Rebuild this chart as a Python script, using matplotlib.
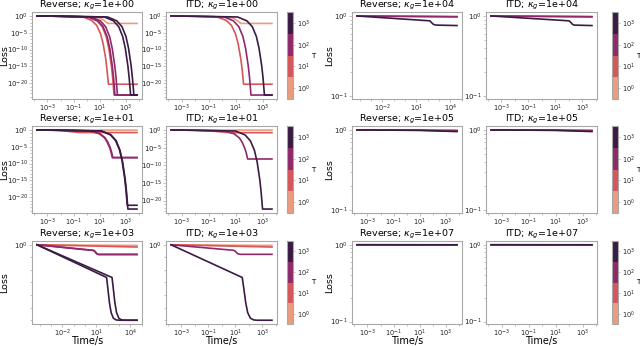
# loss curves for Reverse vs ITD at several kappa_g, coloured by T
import matplotlib
matplotlib.use("Agg")
import matplotlib.pyplot as plt
from matplotlib.colors import ListedColormap, LogNorm
from matplotlib.cm import ScalarMappable
from matplotlib.ticker import FixedLocator, NullFormatter

T_VALUES = [1, 10, 100, 1000]
T_COLORS = ['#eb9c7d', '#d6565a', '#90296a', '#3a1b44']

# shared drop shapes (pre-knee, knee, ..., plateau)
DROP_20 = [1.0, 0.8, 0.55, 0.05, 1.6e-3, 5e-6, 5e-9, 1.3e-13, 8e-17, 5e-21, 5e-21]
DROP_22 = [1.0, 0.8, 0.5, 0.04, 8e-4, 1.6e-6, 8e-10, 6e-15, 1.6e-18, 4e-23, 4e-23]
DROP_23 = [1.0, 0.8, 0.5, 0.035, 6.3e-4, 8e-7, 2.5e-10, 1.3e-15, 2.5e-19, 3e-24, 3e-24]
DROP_8 = [1.0, 0.8, 0.5, 0.08, 5e-3, 3e-4, 5e-6, 3e-7, 6e-9, 6e-9]
PEACH_K1 = [1.0, 0.8, 0.5, 0.25, 0.06, 0.015, 6e-3, 6e-3]
STEEP_1E3 = [1.0, 1e-130, 1e-170, 1e-230, 1e-270, 1e-292, 1e-299, 1e-300, 1e-300]
STEP_1E4 = [1.0, 0.87, 0.83, 0.79, 0.775, 0.77, 0.76]

# each panel: list of (T, times, losses)
REV_K0 = [
    (1, [1.6e-4, 1e-2, 3, 10, 20, 30, 40, 7e3], PEACH_K1),
    (10, [1.6e-4, 1e-2, 0.5, 2.3, 5.8, 11.5, 18.2, 29, 36, 46, 7e3], DROP_20),
    (10, [1.6e-4, 1e-2, 1.2, 6.2, 15.5, 31, 49, 78, 98, 123, 7e3], DROP_23),
    (100, [1.6e-4, 1e-2, 1.4, 7.2, 18, 36, 58, 91, 115, 145, 7e3], DROP_23),
    (100, [1.6e-4, 1e-2, 2.2, 11.2, 28, 56, 89, 141, 178, 224, 7e3], DROP_23),
    (1000, [1.6e-4, 1e-2, 22, 112, 282, 562, 891, 1410, 1780, 2290, 7e3], DROP_23),
    (1000, [1.6e-4, 1e-2, 40, 200, 500, 1000, 1580, 2510, 3160, 4070, 7e3], DROP_23),
]
ITD_K0 = [
    (1, [1.6e-4, 1e-2, 2, 6, 12, 18, 24, 5e3], PEACH_K1),
    (10, [1.6e-4, 1e-2, 0.4, 1.95, 4.9, 9.8, 15.5, 24.5, 31, 39, 5e3], DROP_20),
    (100, [1.6e-4, 1e-2, 1.4, 6.9, 17.4, 34.7, 55, 87, 110, 138, 5e3], DROP_23),
    (1000, [1.6e-4, 1e-2, 14, 69, 174, 347, 550, 870, 1100, 1380, 5e3], DROP_23),
]
REV_K1 = [
    (1, [1.6e-4, 1e-2, 1, 7e3], [1.0, 0.95, 0.9, 0.9]),
    (10, [1.6e-4, 1e-2, 0.1, 0.3, 7e3], [1.0, 0.7, 0.25, 0.17, 0.17]),
    (100, [1.6e-4, 1e-2, 1.8, 9.1, 23, 36, 58, 72, 91, 7e3], DROP_8),
    (100, [1.6e-4, 1e-2, 2, 10, 25, 40, 63, 79, 100, 7e3], DROP_8),
    (1000, [1.6e-4, 1e-2, 12.6, 63, 158, 316, 501, 794, 1000, 1260, 7e3], DROP_22),
    (1000, [1.6e-4, 1e-2, 14, 71, 178, 355, 562, 891, 1120, 1410, 7e3], DROP_23),
]
ITD_K1 = [
    (1, [1.6e-4, 1e-2, 1, 5e3], [1.0, 0.95, 0.9, 0.9]),
    (10, [1.6e-4, 1e-2, 0.3, 2, 10, 5e3], [1.0, 0.8, 0.4, 0.2, 0.17, 0.17]),
    (100, [1.6e-4, 1e-2, 1.6, 7.8, 19.5, 31, 49, 62, 78, 5e3], DROP_8),
    (1000, [1.6e-4, 1e-2, 10, 50, 126, 251, 398, 631, 794, 1000, 5e3], DROP_22),
]
REV_K3 = [
    (1, [6e-5, 4e4], [1.0, 2.5e-3]),
    (10, [6e-5, 4e4], [1.0, 1e-9]),
    (100, [6e-5, 5.6, 7.1, 8.9, 11.2, 15.5, 4e4], [1.0, 1e-22, 1e-25, 1e-31, 1e-36, 1e-38, 1e-38]),
    (100, [6e-5, 6.3, 7.9, 10, 12.6, 17.4, 4e4], [1.0, 1e-23, 1e-26, 1e-32, 1e-37, 1e-39, 1e-39]),
    (1000, [6e-5, 83, 105, 148, 209, 331, 589, 1175, 4e4], STEEP_1E3),
    (1000, [6e-5, 251, 316, 447, 631, 1000, 1780, 3550, 4e4], STEEP_1E3),
]
ITD_K3 = [
    (1, [1.8e-4, 5e3], [1.0, 2.5e-3]),
    (10, [1.8e-4, 5e3], [1.0, 1e-9]),
    (100, [1.8e-4, 7.6, 9.5, 12, 15, 24, 5e3], [1.0, 1e-22, 1e-25, 1e-31, 1e-36, 1e-38, 1e-38]),
    (1000, [1.8e-4, 32, 41, 58, 81, 129, 229, 407, 5e3], STEEP_1E3),
]
REV_K4 = [
    (1, [6e-5, 4e4], [1.0, 0.985]),
    (10, [6e-5, 4e4], [1.0, 0.98]),
    (100, [6e-5, 4e4], [1.0, 0.975]),
    (1000, [6e-5, 160, 220, 320, 450, 600, 4e4], STEP_1E4),
]
ITD_K4 = [
    (1, [1.8e-4, 5e3], [1.0, 0.985]),
    (10, [1.8e-4, 5e3], [1.0, 0.98]),
    (100, [1.8e-4, 5e3], [1.0, 0.975]),
    (1000, [1.8e-4, 102, 140, 180, 220, 245, 5e3], STEP_1E4),
]
REV_K5 = [
    (1, [1.6e-4, 7e3], [1.0, 0.99]),
    (10, [1.6e-4, 7e3], [1.0, 0.99]),
    (100, [1.6e-4, 10, 7e3], [1.0, 0.99, 0.975]),
    (1000, [1.6e-4, 10, 300, 7e3], [1.0, 0.99, 0.97, 0.955]),
]
ITD_K5 = [
    (1, [1.6e-4, 5e3], [1.0, 0.99]),
    (10, [1.6e-4, 5e3], [1.0, 0.99]),
    (100, [1.6e-4, 10, 5e3], [1.0, 0.99, 0.975]),
    (1000, [1.6e-4, 10, 300, 5e3], [1.0, 0.99, 0.97, 0.955]),
]
REV_K7 = [(t, [1.6e-4, 7e3], [1.0, 0.999]) for t in T_VALUES]
ITD_K7 = [(t, [1.6e-4, 5e3], [1.0, 0.999]) for t in T_VALUES]

LEFT_KAPPAS = ['1e+00', '1e+01', '1e+03']
RIGHT_KAPPAS = ['1e+04', '1e+05', '1e+07']
LEFT_PANELS = [(REV_K0, ITD_K0), (REV_K1, ITD_K1), (REV_K3, ITD_K3)]
RIGHT_PANELS = [(REV_K4, ITD_K4), (REV_K5, ITD_K5), (REV_K7, ITD_K7)]

XTICKS_NORMAL = [1e-3, 1e-1, 1e1, 1e3]
XTICKS_LONG = [1e-2, 1e1, 1e4]
YTICKS_DEEP = [1e0, 1e-5, 1e-10, 1e-15, 1e-20]

W, H = 640, 346
fig = plt.figure(figsize=(W / 100, H / 100), dpi=100)

ROWS = [(12, 99), (126, 213), (241, 324)]
GROUPS = [((32, 142), (166, 277), (287, 293)), ((352, 462), (486, 597), (612, 618))]
LOSS_X = [-0.245, -0.205]

cmap = ListedColormap(T_COLORS)
norm = LogNorm(10 ** -0.5, 10 ** 3.5)
EDGE = '#a8a8a8'


def rect(x0, x1, y0, y1):
    return [x0 / W, 1 - y1 / H, (x1 - x0) / W, (y1 - y0) / H]


def style_axes(ax):
    for sp in ax.spines.values():
        sp.set_color(EDGE)
        sp.set_linewidth(0.8)
    ax.tick_params(which='both', colors=EDGE, labelcolor='#222222', labelsize=5,
                   width=0.5, pad=1)
    ax.tick_params(axis='x', pad=0.5, labelsize=4.8)
    ax.tick_params(which='major', length=2)
    ax.tick_params(which='minor', length=1.2)


for g, (kappas, panels) in enumerate([(LEFT_KAPPAS, LEFT_PANELS), (RIGHT_KAPPAS, RIGHT_PANELS)]):
    (rx, ix, cx) = GROUPS[g]
    for r, (y0, y1) in enumerate(ROWS):
        kappa = kappas[r]
        for c, (name, xs) in enumerate([('Reverse', rx), ('ITD', ix)]):
            ax = fig.add_axes(rect(xs[0], xs[1], y0, y1))
            for T, t, loss in panels[r][c]:
                ax.plot(t, loss, color=T_COLORS[T_VALUES.index(T)], lw=1.2)
            ax.set_xscale('log')
            ax.set_yscale('log')
            long_run = name == 'Reverse' and kappa in ('1e+03', '1e+04')
            ax.set_xticks(XTICKS_LONG if long_run else XTICKS_NORMAL)
            ax.xaxis.set_minor_locator(FixedLocator([10.0 ** k for k in range(-5, 6)]))
            ax.xaxis.set_minor_formatter(NullFormatter())
            if kappa in ('1e+00', '1e+01'):
                ax.set_yticks(YTICKS_DEEP)
                ax.yaxis.set_minor_locator(FixedLocator([10.0 ** -k for k in range(0, 26)]))
            elif kappa == '1e+03':
                ax.set_yticks([1.0])
                ax.yaxis.set_minor_locator(FixedLocator([10.0 ** -k for k in range(50, 301, 50)]))
            else:
                ax.set_ylim(0.093, 1.12)
                ax.set_yticks([1e0, 1e-1])
            ax.yaxis.set_minor_formatter(NullFormatter())
            style_axes(ax)
            ax.set_title('%s; $\\kappa_g$=%s' % (name, kappa), fontsize=6.8, pad=0)
            if c == 0:
                ax.set_ylabel('Loss', fontsize=6.8, va='center')
                ax.yaxis.set_label_coords(LOSS_X[g], 0.5)
            if r == 2:
                ax.set_xlabel('Time/s', fontsize=7, va='baseline')
                ax.xaxis.set_label_coords(0.5, -0.235)
        cax = fig.add_axes(rect(cx[0], cx[1], y0, y1))
        sm = ScalarMappable(norm=norm, cmap=cmap)
        cb = fig.colorbar(sm, cax=cax)
        cb.set_ticks(T_VALUES)
        cb.minorticks_off()
        cb.outline.set_edgecolor(EDGE)
        cb.outline.set_linewidth(0.8)
        cb.ax.tick_params(labelsize=4.8, length=1.5, width=0.5, colors=EDGE,
                          labelcolor='#222222', pad=1.5)
        cb.set_label('T', rotation=0, fontsize=5, va='center', ha='center')
        cb.ax.yaxis.set_label_coords(4.3, 0.5)

fig.savefig('out.png', dpi=100)
